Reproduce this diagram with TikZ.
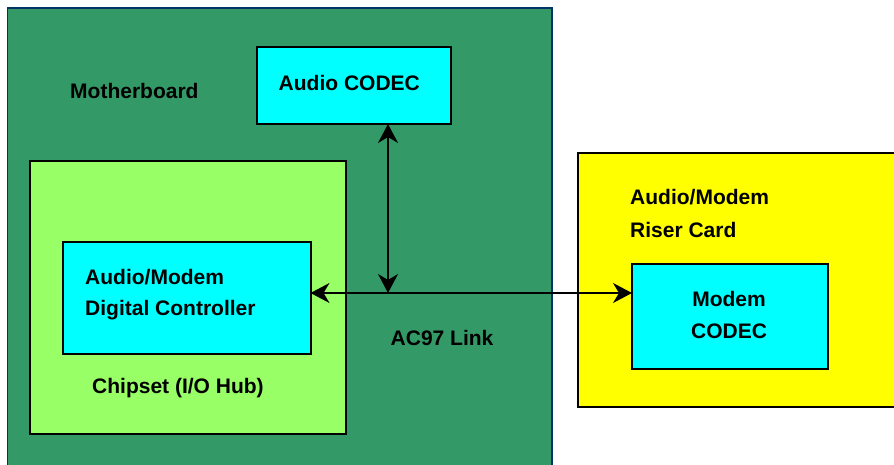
\documentclass[tikz,border=0pt]{standalone}
\usepackage{fontspec}
\setmainfont{Liberation Sans}
\usetikzlibrary{arrows.meta}
\definecolor{boardgreen}{HTML}{339966}
\definecolor{boardedge}{HTML}{003366}
\definecolor{chipgreen}{HTML}{99FF66}
\definecolor{codeccyan}{HTML}{00FFFF}
\definecolor{riseryellow}{HTML}{FFFF00}

\begin{document}
\begin{tikzpicture}[x=1pt,y=-1pt,
        box/.style={draw, line width=2pt, inner sep=0pt, outer sep=0pt},
        lbl/.style={font=\bfseries\fontsize{21}{25}\selectfont, inner sep=0pt, anchor=base west},
        bus/.style={line width=1.5pt, {Stealth[length=19pt,width=20pt,inset=6pt]}-{Stealth[length=19pt,width=20pt,inset=6pt]}}]
        \clip (0,0) rectangle (894,465);
        \fill[white] (0,0) rectangle (894,465);

        % boards
        \node[box, draw=boardedge, line width=1.5pt, fill=boardgreen, minimum width=544.5pt, minimum height=472pt] (mb) at (279.75,244) {};
        \node[box, fill=riseryellow, minimum width=327.5pt, minimum height=253.5pt] (riser) at (741.25,279.75) {};

        % chips
        \node[box, fill=chipgreen, minimum width=315.5pt, minimum height=272.5pt] (chipset) at (187.75,297.75) {};
        \node[box, fill=codeccyan, minimum width=247.5pt, minimum height=112.5pt] (ctrl) at (186.75,297.75) {};
        \node[box, fill=codeccyan, minimum width=194.5pt, minimum height=76.5pt] (codec) at (353.75,85.75) {};
        \node[box, fill=codeccyan, minimum width=195.5pt, minimum height=104.5pt] (modem) at (729.75,316.25) {};

        % labels
        \node[lbl] (mb-txt) at (70,98.5) {Motherboard};
        \node[lbl] (codec-txt) at (278.5,91) {Audio CODEC};
        \node[lbl] (ctrl-txt1) at (85,284) {Audio/Modem};
        \node[lbl] (ctrl-txt2) at (85,315.7) {Digital Controller};
        \node[lbl] (chipset-txt) at (92,393.3) {Chipset (I/O Hub)};
        \node[lbl] (link-txt) at (390.5,345) {AC97 Link};
        \node[lbl] (riser-txt1) at (630,205) {Audio/Modem};
        \node[lbl] (riser-txt2) at (630,237) {Riser Card};
        \node[lbl, anchor=base] (modem-txt1) at (729,306.7) {Modem};
        \node[lbl, anchor=base] (modem-txt2) at (729,338.3) {CODEC};

        % AC97 link
        \coordinate (ac97) at (388,293);
        \draw[bus] (codec.south -| ac97) -- (ac97);
        \draw[bus] (ctrl.east |- ac97) -- (modem.west |- ac97);
\end{tikzpicture}
\end{document}
